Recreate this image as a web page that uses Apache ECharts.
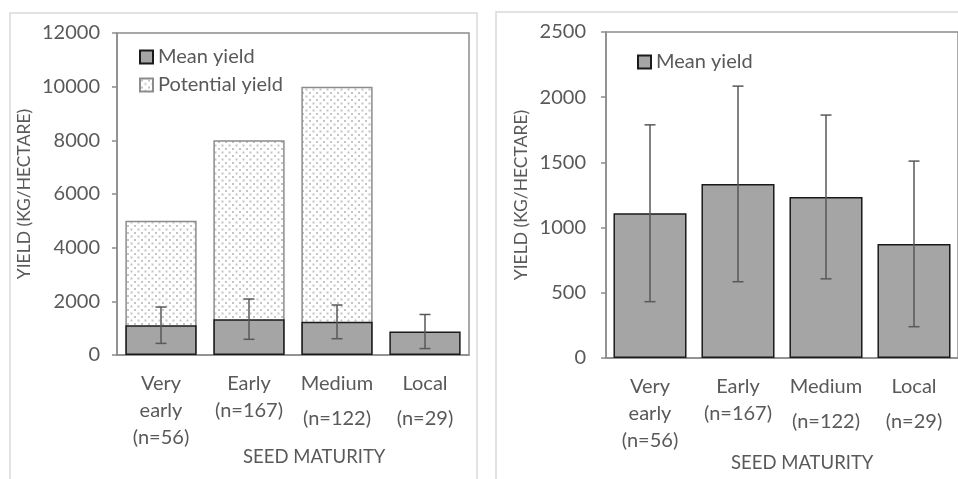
<!DOCTYPE html>
<html><head><meta charset="utf-8">
<script src="https://cdn.jsdelivr.net/npm/echarts@6/dist/echarts.min.js"></script>
<style>html,body{margin:0;padding:0;background:#fff}#c{width:958px;height:479px}</style>
</head><body><div id="c"></div>
<script>
var categories = ['Very\nearly\n(n=56)', 'Early\n(n=167)', 'Medium\n(n=122)', 'Local\n(n=29)'];
var meanYield = [1110, 1335, 1235, 875];
var meanSD = [678, 750, 628, 635];
var potentialYield = [5000, 8000, 10000, null];
var leftTicks = [0, 12000, 2000];
var rightTicks = [0, 2500, 500];

var FONT = 'Lato';
var TXT = '#595959';

var pc = document.createElement('canvas');
pc.width = 7; pc.height = 7;
var px = pc.getContext('2d');
px.fillStyle = '#fff'; px.fillRect(0, 0, 7, 7);
px.fillStyle = '#c4c4c4';
px.fillRect(1, 1, 2, 2); px.fillRect(4.5, 4.5, 2, 2);

var errData = meanYield.map(function (m, i) { return [i, m - meanSD[i], m + meanSD[i]]; });

function errRender(params, api) {
  var x = api.value(0);
  var lo = api.coord([x, api.value(1)]);
  var hi = api.coord([x, api.value(2)]);
  var hw = 5.5;
  var st = { stroke: '#595959', lineWidth: 1.5 };
  return { type: 'group', children: [
    { type: 'line', shape: { x1: hi[0], y1: hi[1], x2: lo[0], y2: lo[1] }, style: st },
    { type: 'line', shape: { x1: hi[0] - hw, y1: hi[1], x2: hi[0] + hw, y2: hi[1] }, style: st },
    { type: 'line', shape: { x1: lo[0] - hw, y1: lo[1], x2: lo[0] + hw, y2: lo[1] }, style: st }
  ]};
}

function catFormatter(v, i) {
  var lines = v.split('\n');
  if (lines.length === 2 && i >= 2) {
    return '{a|' + lines[0] + '}\n{s|}\n{a|' + lines[1] + '}';
  }
  return lines.map(function (l) { return '{a|' + l + '}'; }).join('\n');
}
var catRich = {
  a: { fontFamily: FONT, fontSize: 20, color: TXT, lineHeight: 27 },
  s: { fontSize: 1, lineHeight: 8, height: 8 }
};

function xAxis(gi) {
  return {
    type: 'category', gridIndex: gi, data: categories,
    axisLine: { lineStyle: { color: '#8c8c8c', width: 1.5 } },
    axisTick: { show: false },
    axisLabel: { interval: 0, margin: 15, formatter: catFormatter, rich: catRich }
  };
}
function yAxis(gi, t, gap, lm) {
  return {
    type: 'value', gridIndex: gi, min: t[0], max: t[1], interval: t[2],
    name: 'YIELD (KG/HECTARE)', nameLocation: 'middle', nameGap: gap,
    nameTextStyle: { fontFamily: FONT, fontSize: 17.5, color: TXT },
    axisLine: { show: true, lineStyle: { color: '#8c8c8c', width: 1.5 } },
    axisTick: { show: true, length: 5, lineStyle: { color: '#8c8c8c', width: 1.5 } },
    splitLine: { show: false },
    axisLabel: { fontFamily: FONT, fontSize: 20, color: TXT, margin: lm,
      formatter: function (v) { return String(v); } }
  };
}

var chart = echarts.init(document.getElementById('c'));
chart.setOption({
  animation: false,
  backgroundColor: '#fff',
  graphic: [
    { type: 'rect', shape: { x: 10, y: 13, width: 467, height: 480 }, style: { fill: 'none', stroke: '#d9d9d9', lineWidth: 1.5 }, z: -1 },
    { type: 'rect', shape: { x: 496, y: 12, width: 480, height: 480 }, style: { fill: 'none', stroke: '#d9d9d9', lineWidth: 1.5 }, z: -1 },
    { type: 'text', left: 243, top: 448, style: { text: 'SEED MATURITY', fontFamily: FONT, fontSize: 18.5, fill: TXT } },
    { type: 'text', left: 731, top: 454, style: { text: 'SEED MATURITY', fontFamily: FONT, fontSize: 18.5, fill: TXT } }
  ],
  legend: [
    { left: 134, top: 42, orient: 'vertical', itemGap: 8, itemWidth: 13, itemHeight: 13,
      data: [{ name: 'Mean yield', icon: 'rect' }, { name: 'Potential yield', icon: 'rect' }],
      textStyle: { fontFamily: FONT, fontSize: 20, color: TXT }, selectedMode: false },
    { left: 632, top: 47, orient: 'vertical', itemWidth: 13, itemHeight: 13,
      data: [{ name: 'Mean yield', icon: 'rect' }],
      textStyle: { fontFamily: FONT, fontSize: 20, color: TXT }, selectedMode: false }
  ],
  grid: [
    { left: 117, top: 33, width: 352, height: 322, show: true, borderColor: '#8c8c8c', borderWidth: 1.5, backgroundColor: 'transparent' },
    { left: 606, top: 32, width: 356, height: 326, show: true, borderColor: '#8c8c8c', borderWidth: 1.5, backgroundColor: 'transparent' }
  ],
  xAxis: [xAxis(0), xAxis(1)],
  yAxis: [yAxis(0, leftTicks, 84, 17), yAxis(1, rightTicks, 76, 20)],
  series: [
    { name: 'Potential yield', type: 'bar', xAxisIndex: 0, yAxisIndex: 0, data: potentialYield,
      barCategoryGap: '19%', barGap: '-100%',
      itemStyle: { color: { image: pc, repeat: 'repeat' }, borderColor: '#8c8c8c', borderWidth: 1.5 } },
    { name: 'Mean yield', type: 'bar', xAxisIndex: 0, yAxisIndex: 0, data: meanYield,
      barCategoryGap: '19%', barGap: '-100%',
      itemStyle: { color: '#a5a5a5', borderColor: '#1a1a1a', borderWidth: 1.5 } },
    { type: 'custom', xAxisIndex: 0, yAxisIndex: 0, data: errData, renderItem: errRender, encode: { x: 0, y: [1, 2] }, z: 5 },
    { name: 'Mean yield', type: 'bar', xAxisIndex: 1, yAxisIndex: 1, data: meanYield,
      barCategoryGap: '17%',
      itemStyle: { color: '#a5a5a5', borderColor: '#1a1a1a', borderWidth: 1.5 } },
    { type: 'custom', xAxisIndex: 1, yAxisIndex: 1, data: errData, renderItem: errRender, encode: { x: 0, y: [1, 2] }, z: 5 }
  ]
});
</script></body></html>
